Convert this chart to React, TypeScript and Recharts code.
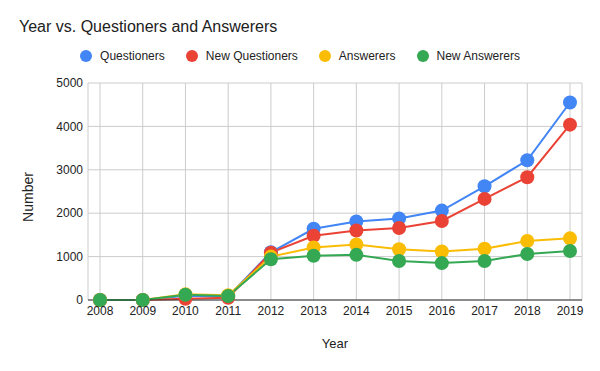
import { LineChart, Line, XAxis, YAxis, CartesianGrid } from "recharts";

const years = ["2008", "2009", "2010", "2011", "2012", "2013", "2014", "2015", "2016", "2017", "2018", "2019"];
const questioners = [0, 0, 100, 80, 1100, 1640, 1810, 1880, 2060, 2620, 3220, 4550];
const newQuestioners = [0, 0, 30, 50, 1090, 1480, 1600, 1660, 1820, 2330, 2830, 4040];
const answerers = [0, 0, 130, 110, 1000, 1210, 1280, 1170, 1120, 1180, 1360, 1420];
const newAnswerers = [0, 0, 120, 90, 940, 1020, 1040, 900, 850, 900, 1060, 1130];
const yTicks = [0, 1000, 2000, 3000, 4000, 5000];

const series = [
    { key: "questioners", name: "Questioners", color: "#4285f4", values: questioners },
    { key: "newQuestioners", name: "New Questioners", color: "#ea4335", values: newQuestioners },
    { key: "answerers", name: "Answerers", color: "#fbbc04", values: answerers },
    { key: "newAnswerers", name: "New Answerers", color: "#34a853", values: newAnswerers },
];

const data = years.map((year, i) => {
    const row: any = { year };
    series.forEach((s) => (row[s.key] = s.values[i]));
    return row;
});

const FONT = "'Liberation Sans', Arial, sans-serif";

export default function App() {
    return (
        <div style={{ position: "absolute", left: 0, top: 0, width: 600, height: 371, background: "#fff", fontFamily: FONT }}>
            <div style={{ position: "absolute", left: 19, top: 18, fontSize: 16, color: "#212121", whiteSpace: "nowrap" }}>
                Year vs. Questioners and Answerers
            </div>
            {/* legend */}
            <div style={{ position: "absolute", left: 0, top: 49, width: 600, display: "flex", justifyContent: "center", gap: 21 }}>
                {series.map((s) => (
                    <div key={s.key} style={{ display: "flex", alignItems: "center", gap: 8 }}>
                        <div style={{ width: 12, height: 12, borderRadius: 6, backgroundColor: s.color }} />
                        <span style={{ fontSize: 12, color: "#222" }}>{s.name}</span>
                    </div>
                ))}
            </div>
            <LineChart
                width={600}
                height={371}
                data={data}
                margin={{ top: 83, right: 18, bottom: 41, left: 22 }}
            >
                <CartesianGrid stroke="#cccccc" />
                <XAxis
                    dataKey="year"
                    padding={{ left: 12, right: 12 }}
                    axisLine={{ stroke: "#333" }}
                    tickLine={false}
                    tickSize={4}
                    tick={{ fontSize: 12, fill: "#222", fontFamily: FONT }}
                    interval={0}
                    height={30}
                    label={{ value: "Year", position: "bottom", offset: 9, fontSize: 13, fill: "#222", fontFamily: FONT }}
                />
                <YAxis
                    domain={[0, 5000]}
                    ticks={yTicks}
                    axisLine={false}
                    tickLine={false}
                    tickSize={3}
                    width={66}
                    tick={{ fontSize: 12, fill: "#222", fontFamily: FONT }}
                    label={{
                        content: () => (
                            <text
                                x={28}
                                y={197}
                                transform="rotate(-90, 28, 197)"
                                textAnchor="middle"
                                dominantBaseline="central"
                                fontSize={14}
                                fill="#222"
                                fontFamily={FONT}
                            >
                                Number
                            </text>
                        ),
                    }}
                />
                {series.map((s) => (
                    <Line
                        key={s.key}
                        dataKey={s.key}
                        name={s.name}
                        stroke={s.color}
                        strokeWidth={2}
                        dot={{ r: 7, fill: s.color, stroke: "none" }}
                        activeDot={false}
                        isAnimationActive={false}
                    />
                ))}
            </LineChart>
        </div>
    );
}
